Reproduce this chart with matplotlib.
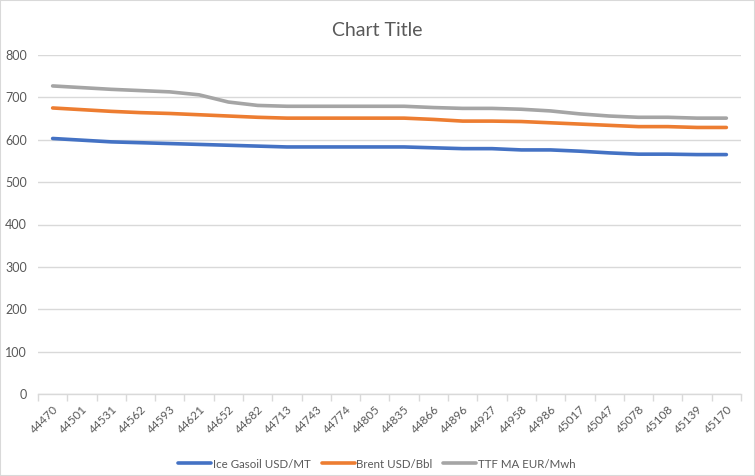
import matplotlib
matplotlib.use("Agg")
import matplotlib.pyplot as plt
from matplotlib.patches import Rectangle

categories = ["44470", "44501", "44531", "44562", "44593", "44621", "44652", "44682",
              "44713", "44743", "44774", "44805", "44835", "44866", "44896", "44927",
              "44958", "44986", "45017", "45047", "45078", "45108", "45139", "45170"]
gasoil = [603, 599, 595, 593, 591, 589, 587, 585, 583, 583, 583, 583, 583, 581, 579, 579,
          576, 576, 573, 569, 566, 566, 565, 565]
brent = [675, 671, 667, 664, 662, 659, 656, 653, 651, 651, 651, 651, 651, 648, 644, 644,
         643, 640, 637, 634, 631, 631, 629, 629]
ttf = [727, 723, 719, 716, 713, 706, 689, 681, 679, 679, 679, 679, 679, 676, 674, 674,
       672, 668, 661, 656, 653, 653, 651, 651]
series_names = ["Ice Gasoil USD/MT", "Brent USD/Bbl", "TTF MA EUR/Mwh"]
colors = ["#4472C4", "#ED7D31", "#A5A5A5"]

plt.rcParams['font.family'] = ['Lato', 'DejaVu Sans']

fig = plt.figure(figsize=(7.55, 4.76), dpi=100)
ax = fig.add_axes([38/755, 1-394/476, (741-38)/755, (394-55)/476])

x = list(range(len(categories)))
for vals, name, c in zip([gasoil, brent, ttf], series_names, colors):
    ax.plot(x, vals, color=c, lw=2.6, label=name, solid_capstyle='round')

ax.set_xlim(-0.5, len(categories)-0.5)
ax.set_ylim(0, 800)
ax.set_yticks(range(0, 801, 100))
ax.grid(axis='y', color='#D9D9D9', lw=1)
ax.set_axisbelow(True)
for s in ['left', 'right', 'top']:
    ax.spines[s].set_visible(False)
ax.spines['bottom'].set_color('#D9D9D9')
ax.spines['bottom'].set_linewidth(1)

ax.set_xticks([i - 0.5 for i in range(len(categories)+1)], minor=False)
ax.set_xticklabels([])
ax.tick_params(axis='x', which='major', length=5, color='#D9D9D9', width=1)
ax.set_xticks(x, minor=True)
ax.set_xticklabels(categories, minor=True, rotation=45, ha='right',
                   rotation_mode='anchor', fontsize=8.5, color='#595959')
ax.tick_params(axis='x', which='minor', length=0, pad=7)
ax.tick_params(axis='y', length=0, labelsize=9, labelcolor='#595959', pad=8)

fig.text(0.5, 1-30/476, "Chart Title", ha='center', va='center', fontsize=14, color='#595959')

fig.legend(loc='center', bbox_to_anchor=(377/755, 1-464/476), ncol=3, frameon=False,
           fontsize=8.3, labelcolor='#595959', handlelength=2.85, columnspacing=0.95,
           handletextpad=0.15)

fig.patches.append(Rectangle((0, 0), 1, 1, transform=fig.transFigure, fill=False,
                             edgecolor='#D9D9D9', lw=1.5))

fig.savefig("out.png", dpi=100)
